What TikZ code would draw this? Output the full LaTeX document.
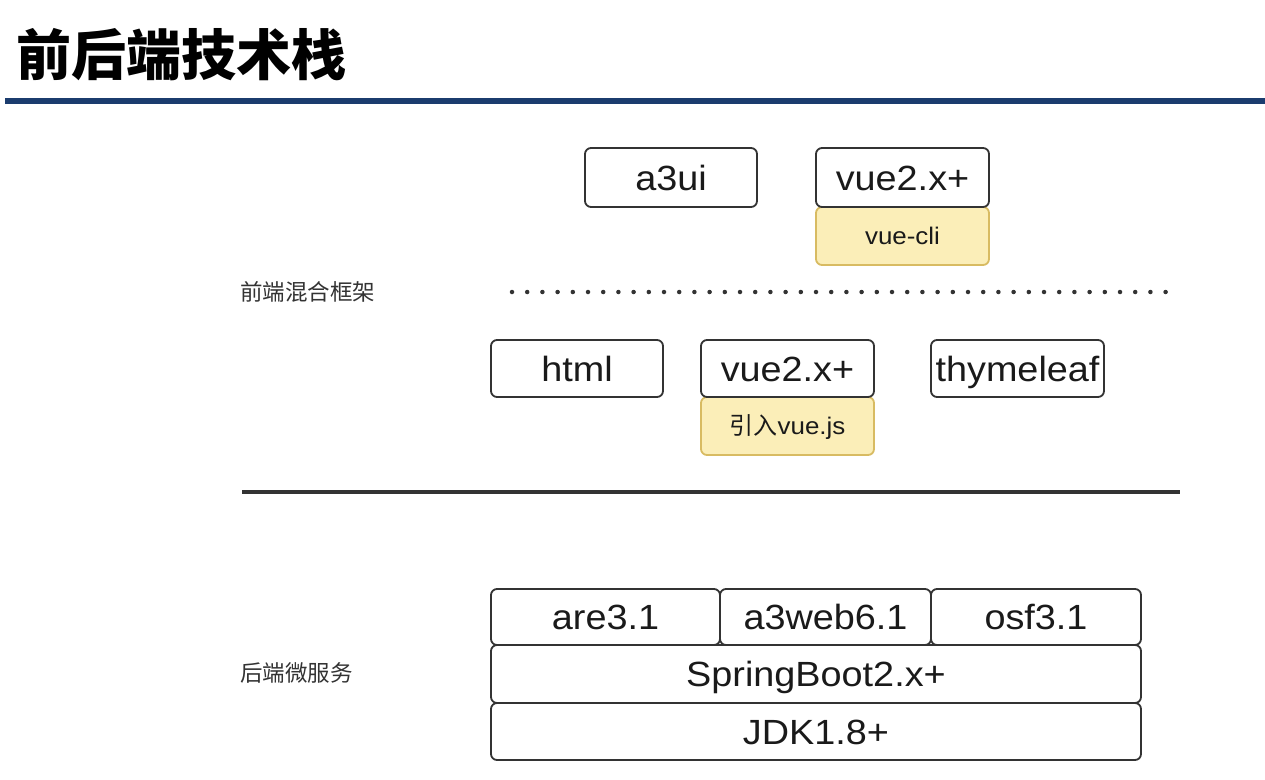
\documentclass[tikz,border=0pt]{standalone}
\usepackage{fontspec}
\setmainfont{Liberation Sans}
\newfontfamily\boxfont[FakeStretch=1.08]{Liberation Sans}
\newfontfamily\cjk{Noto Sans CJK SC}
\definecolor{navy}{HTML}{1B3C6E}
\definecolor{boxline}{HTML}{333333}
\definecolor{txt}{HTML}{1A1A1A}
\definecolor{lbltxt}{HTML}{333333}
\definecolor{yfill}{HTML}{FBEEB8}
\definecolor{yborder}{HTML}{D8BB62}
\begin{document}
\begin{tikzpicture}[x=1pt,y=-1pt,
  box/.style={draw=boxline, line width=1.8pt, rounded corners=6pt, fill=white,
    inner sep=0pt, text height=26pt, text depth=1pt,
    font=\boxfont\fontsize{35}{40}\selectfont, text=txt},
  subbox/.style={box, draw=yborder, fill=yfill, text height=18pt, text depth=1pt,
    font=\boxfont\fontsize{24}{28}\selectfont},
  lbl/.style={font=\cjk\fontsize{22.5}{26}\selectfont, text=lbltxt, inner sep=0pt, anchor=west},
  sep/.style={line width=4pt, draw=boxline}]
\useasboundingbox[fill=white] (0,0) rectangle (1265,779);

% title
\node[anchor=west, inner sep=0pt, text=black, font=\cjk\bfseries\fontsize{55}{60}\selectfont] (title) at (16,55) {前后端技术栈};
\coordinate (navyL) at (5,101);
\coordinate (navyR) at (1265,101);
\draw[navy, line width=6pt] (navyL) -- (navyR);

% top frameworks
\node[subbox, minimum width=173pt, minimum height=58pt] (vuecli) at (902.5,236) {vue-cli};
\node[box, minimum width=172pt, minimum height=59pt] (a3ui) at (671,177.5) {a3ui};
\node[box, minimum width=173pt, minimum height=59pt] (vuetop) at (902.5,177.5) {vue2.x+};

% divider label and dotted line
\node[lbl] (mixlbl) at (240,292) {前端混合框架};
\coordinate (dotL) at (512,292);
\coordinate (dotR) at (1172,292);
\draw[boxline, line width=4.5pt, line cap=round, dash pattern=on 0pt off 15.2pt] (dotL) -- (dotR);

% middle
\node[subbox, minimum width=173pt, minimum height=58pt] (vuejs) at (787.5,426) {{\cjk 引入}vue.js};
\node[box, minimum width=172pt, minimum height=57pt] (html) at (577,368.5) {html};
\node[box, minimum width=173pt, minimum height=57pt] (vuemid) at (787.5,368.5) {vue2.x+};
\node[box, minimum width=173pt, minimum height=57pt] (thyme) at (1017.5,368.5) {thymeleaf};

% solid separator
\coordinate (sepL) at (242,492);
\coordinate (sepR) at (1180,492);
\draw[sep] (sepL) -- (sepR);

% backend
\node[lbl] (belbl) at (240,673) {后端微服务};
\node[box, minimum width=229pt, minimum height=56pt] (are) at (605.5,617) {are3.1};
\node[box, minimum width=211pt, minimum height=56pt] (a3web) at (825.5,617) {a3web6.1};
\node[box, minimum width=210pt, minimum height=56pt] (osf) at (1036,617) {osf3.1};
\node[box, minimum width=650pt, minimum height=58pt] (spring) at (816,674) {SpringBoot2.x+};
\node[box, minimum width=650pt, minimum height=57pt] (jdk) at (816,731.5) {JDK1.8+};
\end{tikzpicture}
\end{document}
